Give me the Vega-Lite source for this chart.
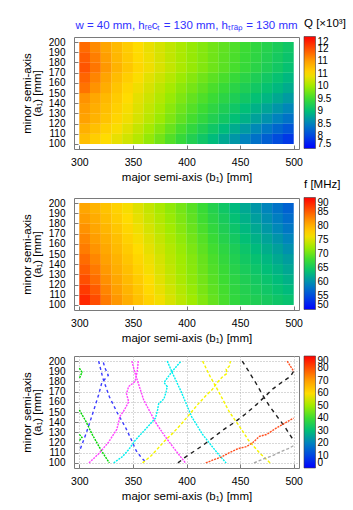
{
  "$schema": "https://vega.github.io/schema/vega-lite/v6.json",
  "padding": {"left": 21, "top": 17, "right": 0, "bottom": 0},
  "background": "white",
  "bounds": "flush",
  "spacing": 49,
  "resolve": {"scale": {"color": "independent"}, "legend": {"color": "independent"}},
  "config": {
    "font": "Liberation Sans",
    "view": {"stroke": "#7a7a7a", "strokeWidth": 1},
    "axis": {
      "labelFont": "Liberation Sans", "labelFontSize": 10.5, "labelColor": "#000", "labelOverlap": false,
      "titleFont": "Liberation Sans", "titleFontSize": 11.5, "titleFontWeight": "normal", "titleColor": "#000",
      "domain": false, "tickColor": "#7a7a7a", "tickSize": -4, "grid": false
    },
    "axisX": {"labelPadding": 12, "titlePadding": 4},
    "axisY": {"labelPadding": 13, "labelFontSize": 10, "titlePadding": 6, "titleLineHeight": 9.5},
    "legend": {
      "direction": "vertical", "orient": "none", "legendX": 230, "legendY": -19,
      "gradientLength": 112, "gradientThickness": 11.5,
      "gradientStrokeColor": "#404040", "gradientStrokeWidth": 0.6,
      "labelFont": "Liberation Sans", "labelFontSize": 10, "labelColor": "#000", "labelOffset": 8.5,
      "labelOverlap": false, "labelBaseline": "middle",
      "titleFont": "Liberation Sans", "titleFontSize": 11.5, "titleFontWeight": "normal", "titleColor": "#000",
      "titlePadding": 7, "titleAnchor": "start", "padding": 0
    }
  },
  "datasets": {
    "grid": [
      {"b":305,"a":105,"Q":10.75,"f":87.8},{"b":315,"a":105,"Q":10.62,"f":85.8},{"b":325,"a":105,"Q":10.5,"f":83.2},{"b":335,"a":105,"Q":10.38,"f":81.6},{"b":345,"a":105,"Q":10.25,"f":80.1},
      {"b":355,"a":105,"Q":10.11,"f":78.7},{"b":365,"a":105,"Q":9.94,"f":77.3},{"b":375,"a":105,"Q":9.78,"f":76.1},{"b":385,"a":105,"Q":9.61,"f":74.8},{"b":395,"a":105,"Q":9.44,"f":73.5},
      {"b":405,"a":105,"Q":9.28,"f":72.2},{"b":415,"a":105,"Q":9.13,"f":70.9},{"b":425,"a":105,"Q":8.98,"f":69.6},{"b":435,"a":105,"Q":8.82,"f":68.3},{"b":445,"a":105,"Q":8.67,"f":67.0},
      {"b":455,"a":105,"Q":8.51,"f":66.1},{"b":465,"a":105,"Q":8.36,"f":65.6},{"b":475,"a":105,"Q":8.21,"f":65.0},{"b":485,"a":105,"Q":8.05,"f":64.4},{"b":495,"a":105,"Q":7.9,"f":63.9},

      {"b":305,"a":115,"Q":10.86,"f":86.8},{"b":315,"a":115,"Q":10.73,"f":84.9},{"b":325,"a":115,"Q":10.6,"f":82.6},{"b":335,"a":115,"Q":10.47,"f":81.1},{"b":345,"a":115,"Q":10.34,"f":79.6},
      {"b":355,"a":115,"Q":10.19,"f":78.3},{"b":365,"a":115,"Q":10.03,"f":76.9},{"b":375,"a":115,"Q":9.88,"f":75.7},{"b":385,"a":115,"Q":9.72,"f":74.4},{"b":395,"a":115,"Q":9.56,"f":73.1},
      {"b":405,"a":115,"Q":9.41,"f":71.8},{"b":415,"a":115,"Q":9.27,"f":70.5},{"b":425,"a":115,"Q":9.13,"f":69.3},{"b":435,"a":115,"Q":8.98,"f":68.1},{"b":445,"a":115,"Q":8.84,"f":66.8},
      {"b":455,"a":115,"Q":8.7,"f":65.9},{"b":465,"a":115,"Q":8.56,"f":65.2},{"b":475,"a":115,"Q":8.42,"f":64.5},{"b":485,"a":115,"Q":8.27,"f":63.8},{"b":495,"a":115,"Q":8.13,"f":63.1},

      {"b":305,"a":125,"Q":10.98,"f":85.6},{"b":315,"a":125,"Q":10.84,"f":83.9},{"b":325,"a":125,"Q":10.7,"f":82.0},{"b":335,"a":125,"Q":10.56,"f":80.6},{"b":345,"a":125,"Q":10.42,"f":79.2},
      {"b":355,"a":125,"Q":10.28,"f":77.9},{"b":365,"a":125,"Q":10.13,"f":76.6},{"b":375,"a":125,"Q":9.98,"f":75.3},{"b":385,"a":125,"Q":9.83,"f":74.0},{"b":395,"a":125,"Q":9.68,"f":72.7},
      {"b":405,"a":125,"Q":9.54,"f":71.4},{"b":415,"a":125,"Q":9.41,"f":70.2},{"b":425,"a":125,"Q":9.28,"f":69.0},{"b":435,"a":125,"Q":9.15,"f":67.8},{"b":445,"a":125,"Q":9.02,"f":66.6},
      {"b":455,"a":125,"Q":8.89,"f":65.6},{"b":465,"a":125,"Q":8.76,"f":64.8},{"b":475,"a":125,"Q":8.63,"f":64.0},{"b":485,"a":125,"Q":8.5,"f":63.2},{"b":495,"a":125,"Q":8.37,"f":62.4},

      {"b":305,"a":135,"Q":11.02,"f":84.8},{"b":315,"a":135,"Q":10.88,"f":83.2},{"b":325,"a":135,"Q":10.74,"f":81.5},{"b":335,"a":135,"Q":10.6,"f":80.1},{"b":345,"a":135,"Q":10.46,"f":78.8},
      {"b":355,"a":135,"Q":10.32,"f":77.5},{"b":365,"a":135,"Q":10.18,"f":76.2},{"b":375,"a":135,"Q":10.04,"f":75.0},{"b":385,"a":135,"Q":9.89,"f":73.7},{"b":395,"a":135,"Q":9.75,"f":72.4},
      {"b":405,"a":135,"Q":9.62,"f":71.2},{"b":415,"a":135,"Q":9.5,"f":69.9},{"b":425,"a":135,"Q":9.38,"f":68.7},{"b":435,"a":135,"Q":9.25,"f":67.5},{"b":445,"a":135,"Q":9.13,"f":66.2},
      {"b":455,"a":135,"Q":9.01,"f":65.2},{"b":465,"a":135,"Q":8.89,"f":64.3},{"b":475,"a":135,"Q":8.78,"f":63.4},{"b":485,"a":135,"Q":8.66,"f":62.5},{"b":495,"a":135,"Q":8.54,"f":61.6},

      {"b":305,"a":145,"Q":11.08,"f":84.0},{"b":315,"a":145,"Q":10.94,"f":82.5},{"b":325,"a":145,"Q":10.79,"f":81.0},{"b":335,"a":145,"Q":10.64,"f":79.7},{"b":345,"a":145,"Q":10.5,"f":78.4},
      {"b":355,"a":145,"Q":10.36,"f":77.1},{"b":365,"a":145,"Q":10.23,"f":75.9},{"b":375,"a":145,"Q":10.1,"f":74.7},{"b":385,"a":145,"Q":9.96,"f":73.4},{"b":395,"a":145,"Q":9.83,"f":72.2},
      {"b":405,"a":145,"Q":9.7,"f":71.0},{"b":415,"a":145,"Q":9.59,"f":69.7},{"b":425,"a":145,"Q":9.48,"f":68.4},{"b":435,"a":145,"Q":9.36,"f":67.1},{"b":445,"a":145,"Q":9.25,"f":65.8},
      {"b":455,"a":145,"Q":9.14,"f":64.7},{"b":465,"a":145,"Q":9.03,"f":63.8},{"b":475,"a":145,"Q":8.93,"f":62.8},{"b":485,"a":145,"Q":8.82,"f":61.8},{"b":495,"a":145,"Q":8.71,"f":60.9},

      {"b":305,"a":155,"Q":11.28,"f":83.1},{"b":315,"a":155,"Q":11.08,"f":81.8},{"b":325,"a":155,"Q":10.89,"f":80.5},{"b":335,"a":155,"Q":10.7,"f":79.2},{"b":345,"a":155,"Q":10.55,"f":77.9},
      {"b":355,"a":155,"Q":10.42,"f":76.7},{"b":365,"a":155,"Q":10.29,"f":75.5},{"b":375,"a":155,"Q":10.16,"f":74.3},{"b":385,"a":155,"Q":10.03,"f":73.1},{"b":395,"a":155,"Q":9.9,"f":71.9},
      {"b":405,"a":155,"Q":9.79,"f":70.6},{"b":415,"a":155,"Q":9.68,"f":69.3},{"b":425,"a":155,"Q":9.57,"f":68.0},{"b":435,"a":155,"Q":9.46,"f":66.7},{"b":445,"a":155,"Q":9.35,"f":65.4},
      {"b":455,"a":155,"Q":9.25,"f":64.2},{"b":465,"a":155,"Q":9.15,"f":63.1},{"b":475,"a":155,"Q":9.05,"f":62.1},{"b":485,"a":155,"Q":8.95,"f":61.1},{"b":495,"a":155,"Q":8.85,"f":60.0},

      {"b":305,"a":165,"Q":11.37,"f":82.5},{"b":315,"a":165,"Q":11.17,"f":81.2},{"b":325,"a":165,"Q":10.97,"f":80.0},{"b":335,"a":165,"Q":10.77,"f":78.8},{"b":345,"a":165,"Q":10.62,"f":77.5},
      {"b":355,"a":165,"Q":10.48,"f":76.3},{"b":365,"a":165,"Q":10.35,"f":75.1},{"b":375,"a":165,"Q":10.23,"f":73.9},{"b":385,"a":165,"Q":10.11,"f":72.7},{"b":395,"a":165,"Q":9.98,"f":71.5},
      {"b":405,"a":165,"Q":9.87,"f":70.2},{"b":415,"a":165,"Q":9.76,"f":68.9},{"b":425,"a":165,"Q":9.66,"f":67.5},{"b":435,"a":165,"Q":9.56,"f":66.1},{"b":445,"a":165,"Q":9.45,"f":64.8},
      {"b":455,"a":165,"Q":9.35,"f":63.5},{"b":465,"a":165,"Q":9.25,"f":62.4},{"b":475,"a":165,"Q":9.15,"f":61.3},{"b":485,"a":165,"Q":9.05,"f":60.2},{"b":495,"a":165,"Q":8.95,"f":59.1},

      {"b":305,"a":175,"Q":11.47,"f":81.9},{"b":315,"a":175,"Q":11.26,"f":80.7},{"b":325,"a":175,"Q":11.05,"f":79.5},{"b":335,"a":175,"Q":10.84,"f":78.3},{"b":345,"a":175,"Q":10.68,"f":77.1},
      {"b":355,"a":175,"Q":10.54,"f":75.9},{"b":365,"a":175,"Q":10.42,"f":74.7},{"b":375,"a":175,"Q":10.3,"f":73.5},{"b":385,"a":175,"Q":10.18,"f":72.3},{"b":395,"a":175,"Q":10.06,"f":71.1},
      {"b":405,"a":175,"Q":9.95,"f":69.8},{"b":415,"a":175,"Q":9.85,"f":68.4},{"b":425,"a":175,"Q":9.75,"f":67.0},{"b":435,"a":175,"Q":9.65,"f":65.6},{"b":445,"a":175,"Q":9.55,"f":64.2},
      {"b":455,"a":175,"Q":9.45,"f":62.9},{"b":465,"a":175,"Q":9.35,"f":61.7},{"b":475,"a":175,"Q":9.25,"f":60.5},{"b":485,"a":175,"Q":9.15,"f":59.3},{"b":495,"a":175,"Q":9.05,"f":58.1},

      {"b":305,"a":185,"Q":11.41,"f":81.3},{"b":315,"a":185,"Q":11.21,"f":80.2},{"b":325,"a":185,"Q":11.01,"f":79.0},{"b":335,"a":185,"Q":10.81,"f":77.8},{"b":345,"a":185,"Q":10.66,"f":76.7},
      {"b":355,"a":185,"Q":10.52,"f":75.5},{"b":365,"a":185,"Q":10.41,"f":74.3},{"b":375,"a":185,"Q":10.29,"f":73.1},{"b":385,"a":185,"Q":10.17,"f":71.9},{"b":395,"a":185,"Q":10.06,"f":70.7},
      {"b":405,"a":185,"Q":9.95,"f":69.4},{"b":415,"a":185,"Q":9.86,"f":67.9},{"b":425,"a":185,"Q":9.76,"f":66.5},{"b":435,"a":185,"Q":9.66,"f":65.1},{"b":445,"a":185,"Q":9.57,"f":63.6},
      {"b":455,"a":185,"Q":9.47,"f":62.3},{"b":465,"a":185,"Q":9.38,"f":61.0},{"b":475,"a":185,"Q":9.28,"f":59.8},{"b":485,"a":185,"Q":9.18,"f":58.6},{"b":495,"a":185,"Q":9.09,"f":57.3},

      {"b":305,"a":195,"Q":11.33,"f":80.7},{"b":315,"a":195,"Q":11.14,"f":79.6},{"b":325,"a":195,"Q":10.96,"f":78.5},{"b":335,"a":195,"Q":10.78,"f":77.4},{"b":345,"a":195,"Q":10.63,"f":76.3},
      {"b":355,"a":195,"Q":10.5,"f":75.1},{"b":365,"a":195,"Q":10.39,"f":73.9},{"b":375,"a":195,"Q":10.28,"f":72.7},{"b":385,"a":195,"Q":10.17,"f":71.5},{"b":395,"a":195,"Q":10.06,"f":70.3},
      {"b":405,"a":195,"Q":9.95,"f":69.0},{"b":415,"a":195,"Q":9.86,"f":67.5},{"b":425,"a":195,"Q":9.77,"f":66.0},{"b":435,"a":195,"Q":9.68,"f":64.5},{"b":445,"a":195,"Q":9.59,"f":63.0},
      {"b":455,"a":195,"Q":9.49,"f":61.7},{"b":465,"a":195,"Q":9.4,"f":60.4},{"b":475,"a":195,"Q":9.31,"f":59.1},{"b":485,"a":195,"Q":9.22,"f":57.8},{"b":495,"a":195,"Q":9.13,"f":56.5}
    ],
    "contours": [
      {"s":"G1","lv":"1","b":300,"a":193},{"s":"G1","lv":"1","b":302.5,"a":189},{"s":"G1","lv":"1","b":300,"a":183},
      {"s":"G2","lv":"1","b":300,"a":128},{"s":"G2","lv":"1","b":302.5,"a":125},{"s":"G2","lv":"1","b":300,"a":122},
      {"s":"G3","lv":"1","b":300,"a":152},{"s":"G3","lv":"1","b":306,"a":141},{"s":"G3","lv":"1","b":312,"a":128},{"s":"G3","lv":"1","b":320,"a":113},{"s":"G3","lv":"1","b":328,"a":100},
      {"s":"B1","lv":"2","b":301,"a":114},{"s":"B1","lv":"2","b":306,"a":128},{"s":"B1","lv":"2","b":312,"a":147},{"s":"B1","lv":"2","b":318,"a":167},{"s":"B1","lv":"2","b":321,"a":179},{"s":"B1","lv":"2","b":327,"a":186},{"s":"B1","lv":"2","b":324,"a":193},{"s":"B1","lv":"2","b":322,"a":200},
      {"s":"B2","lv":"2","b":318,"a":200},{"s":"B2","lv":"2","b":322,"a":183},{"s":"B2","lv":"2","b":328,"a":165},{"s":"B2","lv":"2","b":335,"a":150},{"s":"B2","lv":"2","b":343,"a":135},{"s":"B2","lv":"2","b":348,"a":124},{"s":"B2","lv":"2","b":353,"a":112},{"s":"B2","lv":"2","b":358,"a":105},{"s":"B2","lv":"2","b":363,"a":100},
      {"s":"M1","lv":"3","b":309,"a":100},{"s":"M1","lv":"3","b":318,"a":109},{"s":"M1","lv":"3","b":327,"a":120},{"s":"M1","lv":"3","b":335,"a":133},{"s":"M1","lv":"3","b":338,"a":146},{"s":"M1","lv":"3","b":342,"a":152},{"s":"M1","lv":"3","b":346,"a":160},{"s":"M1","lv":"3","b":344,"a":168},{"s":"M1","lv":"3","b":346,"a":175},{"s":"M1","lv":"3","b":352,"a":180},{"s":"M1","lv":"3","b":354,"a":190},{"s":"M1","lv":"3","b":355,"a":200},
      {"s":"M2","lv":"3","b":349,"a":200},{"s":"M2","lv":"3","b":352,"a":188},{"s":"M2","lv":"3","b":356,"a":175},{"s":"M2","lv":"3","b":360,"a":162},{"s":"M2","lv":"3","b":366,"a":150},{"s":"M2","lv":"3","b":371,"a":140},{"s":"M2","lv":"3","b":380,"a":126},{"s":"M2","lv":"3","b":390,"a":112},{"s":"M2","lv":"3","b":399,"a":100},
      {"s":"C1","lv":"4","b":332,"a":100},{"s":"C1","lv":"4","b":340,"a":106},{"s":"C1","lv":"4","b":346,"a":113},{"s":"C1","lv":"4","b":352,"a":122},{"s":"C1","lv":"4","b":359,"a":130},{"s":"C1","lv":"4","b":366,"a":138},{"s":"C1","lv":"4","b":371,"a":144},{"s":"C1","lv":"4","b":373,"a":152},{"s":"C1","lv":"4","b":374,"a":158},{"s":"C1","lv":"4","b":379,"a":163},{"s":"C1","lv":"4","b":381,"a":170},{"s":"C1","lv":"4","b":382,"a":175},{"s":"C1","lv":"4","b":379,"a":179},{"s":"C1","lv":"4","b":386,"a":189},{"s":"C1","lv":"4","b":390,"a":194},{"s":"C1","lv":"4","b":395,"a":200},
      {"s":"C2","lv":"4","b":382,"a":200},{"s":"C2","lv":"4","b":387,"a":188},{"s":"C2","lv":"4","b":395,"a":170},{"s":"C2","lv":"4","b":405,"a":145},{"s":"C2","lv":"4","b":415,"a":128},{"s":"C2","lv":"4","b":424,"a":116},{"s":"C2","lv":"4","b":431,"a":107},{"s":"C2","lv":"4","b":437,"a":100},
      {"s":"Y1","lv":"5","b":359,"a":100},{"s":"Y1","lv":"5","b":367,"a":107},{"s":"Y1","lv":"5","b":374,"a":115},{"s":"Y1","lv":"5","b":380,"a":122},{"s":"Y1","lv":"5","b":387,"a":129},{"s":"Y1","lv":"5","b":395,"a":138},{"s":"Y1","lv":"5","b":403,"a":148},{"s":"Y1","lv":"5","b":411,"a":158},{"s":"Y1","lv":"5","b":418,"a":166},{"s":"Y1","lv":"5","b":424,"a":172},{"s":"Y1","lv":"5","b":428,"a":178},{"s":"Y1","lv":"5","b":434,"a":185},{"s":"Y1","lv":"5","b":438,"a":188},{"s":"Y1","lv":"5","b":437,"a":192},{"s":"Y1","lv":"5","b":440,"a":195},{"s":"Y1","lv":"5","b":441,"a":200},
      {"s":"Y2","lv":"5","b":415,"a":200},{"s":"Y2","lv":"5","b":422,"a":185},{"s":"Y2","lv":"5","b":430,"a":170},{"s":"Y2","lv":"5","b":440,"a":150},{"s":"Y2","lv":"5","b":450,"a":135},{"s":"Y2","lv":"5","b":458,"a":122},{"s":"Y2","lv":"5","b":468,"a":110},{"s":"Y2","lv":"5","b":478,"a":100},
      {"s":"K1","lv":"6","b":392,"a":100},{"s":"K1","lv":"6","b":398,"a":105},{"s":"K1","lv":"6","b":405,"a":110},{"s":"K1","lv":"6","b":415,"a":117},{"s":"K1","lv":"6","b":425,"a":125},{"s":"K1","lv":"6","b":435,"a":133},{"s":"K1","lv":"6","b":445,"a":140},{"s":"K1","lv":"6","b":455,"a":148},{"s":"K1","lv":"6","b":465,"a":157},{"s":"K1","lv":"6","b":473,"a":165},{"s":"K1","lv":"6","b":481,"a":173},{"s":"K1","lv":"6","b":490,"a":180},{"s":"K1","lv":"6","b":497,"a":185},{"s":"K1","lv":"6","b":500,"a":190},
      {"s":"K2","lv":"6","b":452,"a":200},{"s":"K2","lv":"6","b":458,"a":190},{"s":"K2","lv":"6","b":465,"a":178},{"s":"K2","lv":"6","b":472,"a":165},{"s":"K2","lv":"6","b":478,"a":155},{"s":"K2","lv":"6","b":485,"a":145},{"s":"K2","lv":"6","b":492,"a":135},{"s":"K2","lv":"6","b":500,"a":122},
      {"s":"O1","lv":"7","b":418,"a":100},{"s":"O1","lv":"7","b":425,"a":103},{"s":"O1","lv":"7","b":433,"a":106},{"s":"O1","lv":"7","b":440,"a":110},{"s":"O1","lv":"7","b":448,"a":114},{"s":"O1","lv":"7","b":456,"a":116},{"s":"O1","lv":"7","b":462,"a":120},{"s":"O1","lv":"7","b":468,"a":126},{"s":"O1","lv":"7","b":475,"a":128},{"s":"O1","lv":"7","b":482,"a":133},{"s":"O1","lv":"7","b":490,"a":138},{"s":"O1","lv":"7","b":500,"a":144},
      {"s":"O2","lv":"7","b":494,"a":200},{"s":"O2","lv":"7","b":497,"a":195},{"s":"O2","lv":"7","b":500,"a":190},
      {"s":"R1","lv":"8","b":463,"a":100},{"s":"R1","lv":"8","b":472,"a":104},{"s":"R1","lv":"8","b":480,"a":107},{"s":"R1","lv":"8","b":488,"a":111},{"s":"R1","lv":"8","b":495,"a":114},{"s":"R1","lv":"8","b":500,"a":117}
    ]
  },
  "vconcat": [
    {
      "width": 225, "height": 112,
      "title": {"text": "w = 40 mm, hᵣₑcₜ = 130 mm, hₜᵣₐₚ = 130 mm", "color": "#3030ff", "font": "Liberation Sans", "fontSize": 11.5, "fontWeight": "normal", "anchor": "middle", "frame": "group", "offset": -13},
      "data": {"name": "grid"},
      "mark": {"type": "rect", "width": 10.9, "height": 10.4},
      "encoding": {
        "x": {"field": "b", "type": "quantitative", "scale": {"domain": [295, 505], "nice": false, "zero": false},
              "axis": {"values": [300, 350, 400, 450, 500], "title": "major semi-axis (b₁) [mm]"}},
        "y": {"field": "a", "type": "quantitative", "scale": {"domain": [95, 205], "nice": false, "zero": false},
              "axis": {"values": [100, 110, 120, 130, 140, 150, 160, 170, 180, 190, 200], "title": ["minor semi-axis", "(a₁) [mm]"]}},
        "color": {"field": "Q", "type": "quantitative",
          "scale": {"domain": [7.5, 8, 8.5, 9, 9.5, 10, 10.5, 11, 11.5, 12], "range": ["#0000ff","#0046e1","#0082be","#00be78","#3cdc32","#a0eb00","#ffdc00","#ffa000","#ff5000","#ff0000"], "interpolate": "rgb"},
          "legend": {"title": "Q [×10³]", "values": [7.5, 8, 8.5, 9, 9.5, 10, 10.5, 11, 11.5, 12], "format": "~g"}}
      }
    },
    {
      "bounds": "flush",
      "spacing": 46,
      "resolve": {"scale": {"color": "independent"}, "legend": {"color": "independent"}},
      "vconcat": [
        {
          "width": 225, "height": 112,
          "data": {"name": "grid"},
          "mark": {"type": "rect", "width": 10.9, "height": 10.4},
          "encoding": {
            "x": {"field": "b", "type": "quantitative", "scale": {"domain": [295, 505], "nice": false, "zero": false},
                  "axis": {"values": [300, 350, 400, 450, 500], "title": "major semi-axis (b₁) [mm]"}},
            "y": {"field": "a", "type": "quantitative", "scale": {"domain": [95, 205], "nice": false, "zero": false},
                  "axis": {"values": [100, 110, 120, 130, 140, 150, 160, 170, 180, 190, 200], "title": ["minor semi-axis", "(a₁) [mm]"]}},
            "color": {"field": "f", "type": "quantitative",
              "scale": {"domain": [50, 54.444, 58.889, 63.333, 67.778, 72.222, 76.667, 81.111, 85.556, 90], "range": ["#0000ff","#0046e1","#0082be","#00be78","#3cdc32","#a0eb00","#ffdc00","#ffa000","#ff5000","#ff0000"], "interpolate": "rgb"},
              "legend": {"title": "f [MHz]", "values": [50, 55, 60, 65, 70, 75, 80, 85, 90]}}
          }
        },
        {
          "width": 225, "height": 112,
          "data": {"name": "contours"},
          "encoding": {
            "x": {"field": "b", "type": "quantitative", "scale": {"domain": [295, 505], "nice": false, "zero": false},
                  "axis": {"values": [300, 350, 400, 450, 500], "title": "major semi-axis (b₁) [mm]", "grid": true, "gridColor": "#b0b0b0", "gridDash": [1, 2]}},
            "y": {"field": "a", "type": "quantitative", "scale": {"domain": [95, 205], "nice": false, "zero": false},
                  "axis": {"values": [100, 110, 120, 130, 140, 150, 160, 170, 180, 190, 200], "title": ["minor semi-axis", "(a₁) [mm]"], "grid": true, "gridColor": "#b0b0b0", "gridDash": [1, 2]}}
          },
          "layer": [
            {
              "mark": {"type": "point", "opacity": 0},
              "encoding": {
                "color": {"field": "a", "type": "quantitative",
                  "scale": {"domain": [0, 10, 20, 30, 40, 50, 60, 70, 80, 90], "range": ["#0000ff","#0046e1","#0082be","#00be78","#3cdc32","#a0eb00","#ffdc00","#ffa000","#ff5000","#ff0000"], "interpolate": "rgb"},
                  "legend": {"title": null, "legendY": 0, "values": [0, 10, 20, 30, 40, 50, 60, 70, 80, 90]}}
              }
            },
            {
              "mark": {"type": "line", "strokeWidth": 1.4},
              "encoding": {
                "detail": {"field": "s", "type": "nominal"},
                "order": {"value": null},
                "color": {"field": "lv", "type": "nominal", "legend": null,
                  "scale": {"domain": ["1","2","3","4","5","6","7","8"], "range": ["#00d800","#3c3cff","#ff40ff","#00f0f0","#f5f500","#202020","#ff5020","#a8a8a8"]}},
                "strokeDash": {"field": "lv", "type": "nominal", "legend": null,
                  "scale": {"domain": ["1","2","3","4","5","6","7","8"], "range": [[2,1],[3,3],[2,1],[2,1],[3,2],[4,4],[2,1],[3,2]]}}
              }
            }
          ],
          "resolve": {"scale": {"color": "independent"}}
        }
      ]
    }
  ]
}
